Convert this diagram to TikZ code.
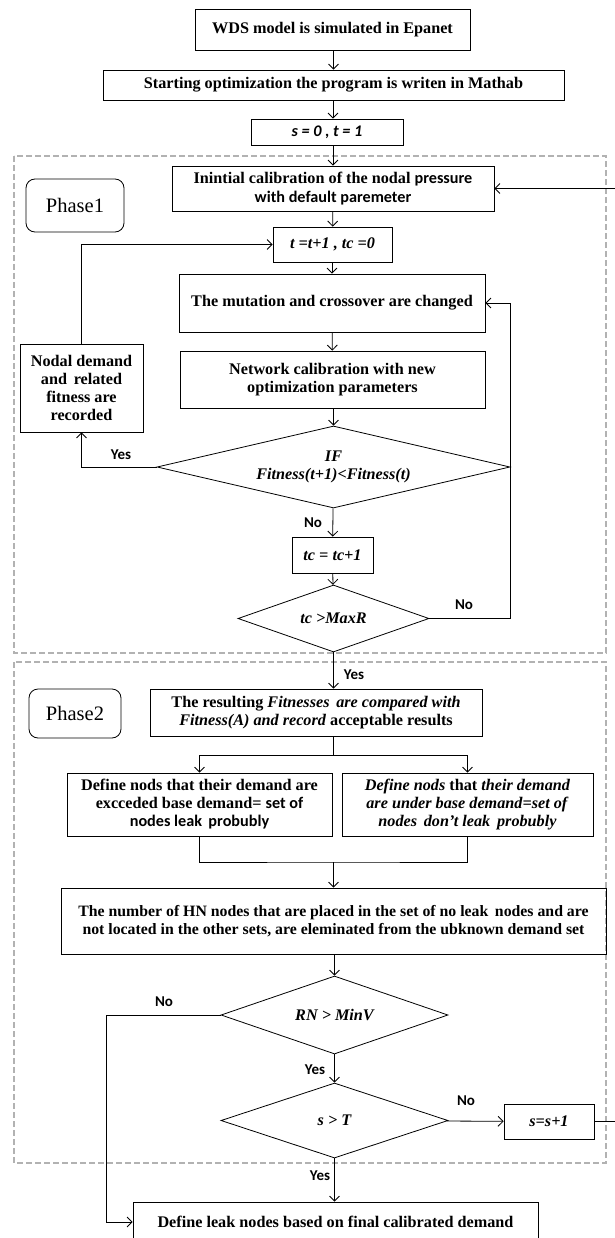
\documentclass[tikz,border=0pt]{standalone}
\usepackage{fontspec}
\setmainfont{Liberation Serif}
\newfontfamily\calfont{Carlito}
\usetikzlibrary{arrows.meta,shapes.geometric,positioning}

\tikzset{
  box/.style={draw, line width=0.8pt, align=center, inner sep=1pt, font=\bfseries\fontsize{16.2}{18}\selectfont},
  cond/.style={diamond, draw, line width=0.8pt, align=center, inner sep=0pt, font=\bfseries\itshape\fontsize{16.2}{18}\selectfont},
  phasebox/.style={draw, line width=0.8pt, rounded corners=9pt, font=\fontsize{20.5}{22}\selectfont},
  zone/.style={draw=gray!60, line width=1.5pt, dash pattern=on 6pt off 3pt},
  flow/.style={draw, line width=0.8pt, -{Straight Barb[length=5pt,width=10pt]}},
  link/.style={draw, line width=0.8pt},
  lbl/.style={font=\calfont\bfseries\fontsize{15}{17}\selectfont, inner sep=0pt},
}

\begin{document}
\begin{tikzpicture}[x=1pt, y=-1pt]
\useasboundingbox (0,0) rectangle (614,1238);

% phase frames
\draw [zone] (14,156) rectangle (606,653);
\draw [zone] (14,662) rectangle (606,1163);

\coordinate (rloop) at (620,0);
\coordinate (lloop) at (106,0);
\coordinate (merge) at (333.5,862);

\node [box, minimum width=275pt, minimum height=41pt] (wds) at (332.5,29.5) {WDS model is simulated in Epanet};
\node [box, minimum width=461pt, minimum height=30pt] (start) at (333.5,85) {Starting optimization the program is writen in Mathab};
\node [box, minimum width=152pt, minimum height=26pt] (szero) at (327,132) {\calfont\itshape s = 0 , t = 1};
\node [box, minimum width=322pt, minimum height=45pt, font=\bfseries\fontsize{16.2}{19}\selectfont] (init) at (333,188.5) {Inintial calibration of the nodal {\calfont pressure}\\{\calfont with default paremeter}};
\node [phasebox, minimum width=98pt, minimum height=53pt] (ph1) at (75,205.5) {Phase1};
\node [box, minimum width=119pt, minimum height=35pt] (tinc) at (332.5,244.5) {\itshape t =t+1 , tc =0};
\node [box, minimum width=306pt, minimum height=58pt] (mut) at (332,303) {The mutation and crossover are changed};
\node [box, minimum width=305pt, minimum height=57pt] (net) at (332.5,379.5) {Network calibration with new\\optimization parameters};
\node [box, minimum width=123pt, minimum height=88pt] (rec) at (81.5,388) {Nodal demand\\and\, related\\fitness are\\recorded};
\node [cond, aspect=4.3, minimum width=353pt, minimum height=82pt] (ifc) at (333.5,467) {IF\\Fitness(t+1)<Fitness(t)};
\node [box, minimum width=81pt, minimum height=36pt] (tcinc) at (332.5,555) {\itshape tc = tc+1};
\node [cond, aspect=2.85, minimum width=191pt, minimum height=67pt] (tcmax) at (333.5,618.5) {tc >MaxR};

\node [phasebox, minimum width=92pt, minimum height=49pt] (ph2) at (75,713.5) {Phase2};
\node [box, minimum width=332pt, minimum height=47pt] (res) at (316,712.5) {The resulting \textit{Fitnesses\, are compared with}\\\textit{Fitness(A) and record} acceptable results};
\node [box, minimum width=265pt, minimum height=63pt] (exc) at (199.5,804.5) {Define nods that their demand are\\excceded base demand= {\calfont set of}\\{\calfont nodes leak\, probubly}};
\node [box, minimum width=251pt, minimum height=63pt] (und) at (467.5,804.5) {\textit{Define nods} that \textit{their demand}\\\textit{are under base demand=set of}\\\textit{nodes\, don't leak\, probubly}};
\node [box, minimum width=545pt, minimum height=66pt, font=\bfseries\fontsize{15.8}{18}\selectfont] (hn) at (333.5,921) {The number of HN nodes that are placed in the set of no leak\, nodes and are\\not located in the other sets, are eleminated from the ubknown demand set};
\node [cond, aspect=2.9, minimum width=227pt, minimum height=78pt] (rn) at (334.5,1015) {RN > MinV};
\node [cond, aspect=3, minimum width=227pt, minimum height=75pt] (st) at (334.5,1120.5) {s > T};
\node [box, minimum width=90pt, minimum height=35pt] (sinc) at (549,1121.5) {\itshape s=s+1};
\node [box, minimum width=405pt, minimum height=40pt] (final) at (335.5,1222) {Define leak nodes based on final calibrated demand};

\node [lbl] (yes1) at (121,455) {Yes};
\node [lbl] (no1) at (313,523) {No};
\node [lbl] (no2) at (464,605) {No};
\node [lbl] (yes2) at (354,675) {Yes};
\node [lbl] (no3) at (164,1002) {No};
\node [lbl] (yes3) at (315,1070) {Yes};
\node [lbl] (no4) at (466,1101) {No};
\node [lbl] (yes4) at (320,1176) {Yes};

% main flow
\draw [flow] (wds.south -| start) -- (start);
\draw [flow] (start.south -| init) -- (szero.north -| init);
\draw [flow] (szero.south -| init) -- (init);
\draw [flow] (init) -- (tinc);
\draw [flow] (tinc.south -| mut) -- (mut);
\draw [flow] (mut) -- (net);
\draw [flow] (net.south -| ifc) -- (ifc);
\draw [flow] (ifc) -- (tcinc);
\draw [flow] (tcinc) -- (tcmax);
\draw [flow] (tcmax.south) -- (tcmax.south |- res.north);
\draw [flow] (ifc.west) -| (rec.south);
\draw [flow] (rec.north) |- (tinc.west);
\draw [flow] (tcmax.east) -| (ifc.east) |- (mut.east);

\draw [link] (res.south -| tcmax) -- ++(0,19) coordinate (split);
\draw [flow] (split) -| (exc.north);
\draw [flow] (split) -| (und.north);
\draw [link] (exc.south) |- (merge) -| (und.south);
\draw [flow] (merge) -- (hn);
\draw [flow] (hn.south -| rn) -- (rn);
\draw [flow] (rn) -- (st);
\draw [flow] (st) -- (sinc);
\draw [flow] (st.south) -- (st.south |- final.north);
\draw [flow] (rn.west) -- (rn.west -| lloop) |- (final.west);
\draw [flow] (sinc.east) -- (sinc.east -| rloop) -- (init.east -| rloop) -- (init.east);

\end{tikzpicture}
\end{document}
